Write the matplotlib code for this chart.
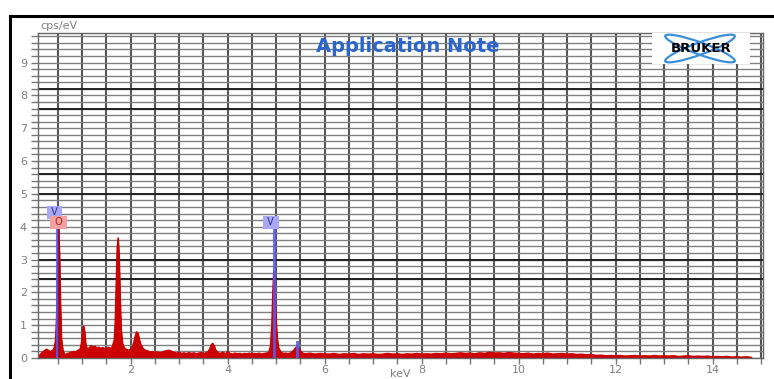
import matplotlib.pyplot as plt
from matplotlib.patches import Ellipse
from matplotlib.lines import Line2D
from matplotlib.ticker import MultipleLocator

# spectrum (keV, cps/eV)
energy_kev = [
    0.10, 0.14, 0.18, 0.22, 0.26, 0.30, 0.34, 0.38, 0.42, 0.45,
    0.47, 0.49, 0.51, 0.53, 0.55, 0.57, 0.60, 0.63,
    0.67, 0.72, 0.77, 0.82, 0.87, 0.92, 0.96,
    0.99, 1.01, 1.03, 1.05, 1.07, 1.10,
    1.14, 1.18, 1.22, 1.26, 1.30, 1.34, 1.38, 1.42, 1.46, 1.50, 1.54, 1.58, 1.62, 1.66,
    1.68, 1.70, 1.72, 1.74, 1.76, 1.78, 1.80, 1.83, 1.87,
    1.92, 1.97, 2.02,
    2.06, 2.09, 2.12, 2.15, 2.18, 2.21, 2.25, 2.30,
    2.35, 2.40, 2.45, 2.50, 2.55, 2.60, 2.65, 2.70, 2.75, 2.80, 2.85, 2.90, 2.95,
    3.00, 3.05, 3.10, 3.15, 3.20, 3.25, 3.30, 3.35, 3.40, 3.45, 3.50, 3.55, 3.60,
    3.63, 3.66, 3.69, 3.72, 3.75, 3.80,
    3.85, 3.90, 3.95, 4.00, 4.05, 4.10, 4.15, 4.20, 4.25, 4.30, 4.35, 4.40, 4.45,
    4.50, 4.55, 4.60, 4.65, 4.70, 4.75, 4.80, 4.85,
    4.88, 4.91, 4.93, 4.95, 4.97, 4.99, 5.02, 5.05, 5.10,
    5.15, 5.20, 5.25, 5.30, 5.35,
    5.38, 5.41, 5.43, 5.46, 5.50, 5.55,
    5.60, 5.70, 5.80, 5.90, 6.00,
    6.1, 6.2, 6.3, 6.4, 6.5, 6.6, 6.7, 6.8, 6.9, 7.0,
    7.1, 7.2, 7.3, 7.4, 7.5, 7.6, 7.7, 7.8, 7.9, 8.0,
    8.1, 8.2, 8.3, 8.4, 8.5, 8.6, 8.7, 8.8, 8.9, 9.0,
    9.1, 9.2, 9.3, 9.4, 9.5, 9.6, 9.7, 9.8, 9.9, 10.0,
    10.1, 10.2, 10.3, 10.4, 10.5, 10.6, 10.7, 10.8, 10.9, 11.0,
    11.1, 11.2, 11.3, 11.4, 11.5, 11.6, 11.7, 11.8, 11.9, 12.0,
    12.1, 12.2, 12.3, 12.4, 12.5, 12.6, 12.7, 12.8, 12.9, 13.0,
    13.1, 13.2, 13.3, 13.4, 13.5, 13.6, 13.7, 13.8, 13.9, 14.0,
    14.1, 14.2, 14.3, 14.4, 14.5, 14.6, 14.7, 14.8,
]
counts_cps = [
    0.05, 0.12, 0.18, 0.22, 0.27, 0.24, 0.20, 0.22, 0.30, 0.55,
    1.20, 2.60, 3.95, 3.20, 1.70, 0.60, 0.25, 0.12,
    0.12, 0.15, 0.18, 0.20, 0.19, 0.24, 0.28,
    0.50, 0.85, 0.97, 0.80, 0.45, 0.28,
    0.30, 0.38, 0.33, 0.36, 0.31, 0.33, 0.30, 0.32, 0.29, 0.31, 0.33, 0.30, 0.34, 0.55,
    1.10, 2.20, 3.30, 3.66, 3.10, 1.90, 0.90, 0.45, 0.30,
    0.26, 0.24, 0.30,
    0.45, 0.65, 0.80, 0.75, 0.55, 0.40, 0.30, 0.24,
    0.22, 0.18, 0.20, 0.17, 0.19, 0.16, 0.18, 0.21, 0.23, 0.24, 0.20, 0.17, 0.15,
    0.18, 0.14, 0.16, 0.13, 0.17, 0.14, 0.16, 0.13, 0.15, 0.17, 0.14, 0.16, 0.20,
    0.28, 0.40, 0.45, 0.38, 0.25, 0.16,
    0.14, 0.18, 0.13, 0.20, 0.14, 0.12, 0.15, 0.13, 0.14, 0.12, 0.14, 0.13, 0.15,
    0.12, 0.14, 0.13, 0.15, 0.12, 0.14, 0.15, 0.18,
    0.35, 1.00, 2.00, 2.65, 2.20, 1.30, 0.60, 0.30, 0.18,
    0.14, 0.15, 0.13, 0.16, 0.22,
    0.28, 0.33, 0.35, 0.30, 0.22, 0.15,
    0.13, 0.15, 0.12, 0.14, 0.13,
    0.12, 0.14, 0.11, 0.13, 0.12, 0.14, 0.11, 0.13, 0.12, 0.13,
    0.11, 0.12, 0.14, 0.12, 0.13, 0.11, 0.13, 0.12, 0.14, 0.12,
    0.13, 0.12, 0.14, 0.13, 0.15, 0.13, 0.14, 0.16, 0.14, 0.15,
    0.13, 0.16, 0.14, 0.18, 0.15, 0.16, 0.14, 0.17, 0.15, 0.14,
    0.13, 0.15, 0.12, 0.14, 0.13, 0.15, 0.12, 0.13, 0.14, 0.12,
    0.13, 0.11, 0.12, 0.10, 0.11, 0.08, 0.09, 0.07, 0.08, 0.07,
    0.08, 0.06, 0.07, 0.08, 0.06, 0.07, 0.06, 0.08, 0.06, 0.07,
    0.06, 0.07, 0.05, 0.06, 0.07, 0.05, 0.06, 0.05, 0.06, 0.04,
    0.05, 0.04, 0.05, 0.03, 0.04, 0.03, 0.04, 0.02,
]

# element marker lines
line_elem = ['V', 'O', 'V', 'V']
line_kev = [0.49, 0.52, 4.95, 5.43]
line_height = [4.3, 4.0, 4.0, 0.5]
line_labelled = [True, True, True, False]

# rows that come out darker in the original screenshot
dark_rows = [2.4, 3.0, 5.0, 5.6, 7.6, 8.2]

elem_line_color = {'V': '#5a5af0', 'O': '#a00000'}
elem_box_color = {'V': '#a8a8f5', 'O': '#f5a0a0'}
elem_text_color = {'V': '#3030a0', 'O': '#a02020'}

W, H = 774, 379
plt.rcParams['font.family'] = ['DejaVu Sans']
fig = plt.figure(figsize=(W / 100, H / 100), dpi=100)

# black frame (only top and left are visible in the crop)
fig.add_artist(Line2D([9.5 / W, 9.5 / W], [0, 1 - 15.5 / H], color='black', lw=2.2))
fig.add_artist(Line2D([9.5 / W, 1], [1 - 15.5 / H, 1 - 15.5 / H], color='black', lw=2.2))

ax = fig.add_axes([38 / W, 1 - 358 / H, (763 - 38) / W, (358 - 33) / H])
ax.set_xlim(0.09, 15.04)
ax.set_ylim(0, 9.9)

ax.xaxis.set_major_locator(MultipleLocator(2))
ax.xaxis.set_minor_locator(MultipleLocator(0.5))
ax.yaxis.set_major_locator(MultipleLocator(1))
ax.yaxis.set_minor_locator(MultipleLocator(0.2))
ax.set_axisbelow(True)
ax.grid(which='both', axis='x', color='#555555', lw=1.5)
ax.grid(which='both', axis='y', color='#808080', lw=1.0)
for r in dark_rows:
    ax.axhline(r, color='#222222', lw=1.4, zorder=0.6)

ax.tick_params(which='both', direction='out', color='#777777', width=1,
               labelcolor='#808080', labelsize=8)
ax.tick_params(axis='y', which='both', length=5, pad=3)
ax.tick_params(axis='x', which='both', length=4, pad=1)
for s in ax.spines.values():
    s.set_color('#666666')
    s.set_linewidth(1.0)

ax.fill_between(energy_kev, counts_cps, 0, color='#cc0000', lw=0.8, zorder=2)
ax.plot(energy_kev, counts_cps, color='#cc0000', lw=0.9, zorder=2)

for el, kev, h, lab in zip(line_elem, line_kev, line_height, line_labelled):
    ax.plot([kev, kev], [0, h], color=elem_line_color[el],
            lw=2.2 if el == 'V' else 1.2, alpha=0.85, zorder=3)
    if lab:
        ax.text(kev - 0.06 if el == 'V' else kev, h + 0.14, ' ' + el + ' ',
                ha='center', va='center', fontsize=7, color=elem_text_color[el], zorder=4,
                bbox=dict(boxstyle='square,pad=0.15', fc=elem_box_color[el], ec='none'))

ax.text(0.003, 1.005, 'cps/eV', transform=ax.transAxes, ha='left', va='bottom',
        fontsize=8, color='#808080')
ax.set_xlabel('keV', fontsize=8, color='#808080', va='center')
ax.xaxis.set_label_coords(0.5, -0.05)

fig.text(408 / W, 1 - 47 / H, 'Application Note', ha='center', va='center',
         fontsize=14, fontweight='bold', color='#2a66cc')

# Bruker logo box
lx, ly, lw_, lh_ = 652, 33, 98, 31
lax = fig.add_axes([lx / W, 1 - (ly + lh_) / H, lw_ / W, lh_ / H])
lax.set_xlim(0, lw_)
lax.set_ylim(0, lh_)
lax.axis('off')
lax.add_patch(plt.Rectangle((0, 0), lw_, lh_, fc='white', ec='none'))
for ang in (20, -20):
    lax.add_patch(Ellipse((48, 15.5), 74, 12, angle=ang, fill=False,
                          ec='#3a8fd8', lw=1.6))
lax.text(49, 15.5, 'BRUKER', ha='center', va='center', fontsize=9.5,
         fontweight='heavy', color='black')

fig.savefig('out.png', dpi=100, facecolor='white')
